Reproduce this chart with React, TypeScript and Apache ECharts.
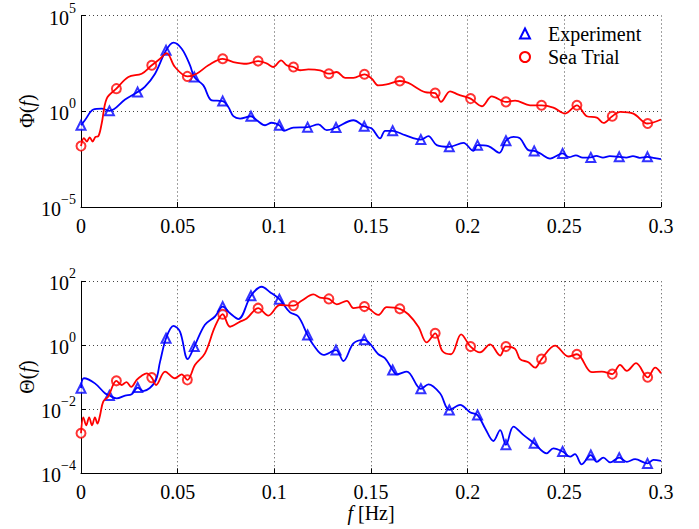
import React, { useEffect, useRef } from "react";
import * as echarts from "echarts";

// All values are [frequency (Hz), log10 of spectral value]
// ---- Top panel: Φ(f) ----
const phiExpLine = [
  [0.002, -0.47], [0.0064, 0.09], [0.0107, 0.14], [0.0228, 0.61], [0.033, 1.27], [0.0383, 1.96],
  [0.0478, 3.58], [0.0521, 3.26], [0.0564, 2.4], [0.0633, 1.35], [0.0676, 0.57], [0.0762, 0.22],
  [0.0788, -0.26], [0.0823, -0.38], [0.0909, -0.47], [0.0952, -0.73], [0.0986, -0.6], [0.105, -1.02],
  [0.1098, -0.85], [0.1228, -0.69], [0.1271, -0.99], [0.1409, -0.47], [0.1504, -0.9], [0.1547, -1.42],
  [0.1573, -1.02], [0.1676, -1.25], [0.1797, -1.3], [0.184, -1.77], [0.1978, -1.65], [0.203, -2.07],
  [0.2107, -1.82], [0.2164, -2.17], [0.2237, -1.34], [0.2271, -1.42], [0.2314, -2.03], [0.2375, -2.2],
  [0.2426, -2.47], [0.2525, -2.4], [0.256, -2.3], [0.2595, -2.42], [0.2665, -2.33], [0.27, -2.42],
  [0.2735, -2.34], [0.282, -2.42], [0.2855, -2.34], [0.289, -2.43], [0.296, -2.44], [0.3, -2.5],
];
const phiExpMarks = [
  [0, -0.73], [0.0147, 0.02], [0.0293, 1.0], [0.044, 3.18], [0.0586, 1.79], [0.0733, 0.53],
  [0.0879, -0.26], [0.1026, -0.73], [0.1172, -0.83], [0.1319, -0.85], [0.1465, -0.78], [0.1612, -1.02],
  [0.1758, -1.48], [0.1905, -1.86], [0.2051, -1.77], [0.2198, -1.54], [0.2344, -2.07], [0.2491, -2.2],
  [0.2637, -2.41], [0.2784, -2.38], [0.293, -2.38],
];
const phiSeaLine = [
  [0.0015, -1.4], [0.003, -1.58], [0.0045, -1.36], [0.006, -1.58], [0.0075, -1.34], [0.009, -1.3],
  [0.0107, -0.64], [0.0133, 0.66], [0.0245, 1.79], [0.0314, 1.96], [0.0409, 2.74], [0.0443, 3.04],
  [0.0486, 2.31], [0.0598, 1.96], [0.0659, 2.4], [0.0788, 2.57], [0.0857, 2.48], [0.096, 2.5],
  [0.0995, 2.31], [0.1035, 2.66], [0.1064, 2.4], [0.1133, 2.14], [0.1176, 2.19], [0.1236, 2.14],
  [0.1323, 2.05], [0.1366, 1.74], [0.1409, 1.74], [0.1504, 1.7], [0.1538, 1.35], [0.1581, 1.4],
  [0.1693, 1.48], [0.178, 1.0], [0.1862, 0.49], [0.1909, 1.04], [0.1952, 0.87], [0.2073, 0.26],
  [0.2125, 0.78], [0.2245, 0.56], [0.2323, 0.31], [0.2443, 0.19], [0.2504, -0.12], [0.2616, -0.26],
  [0.2668, -0.33], [0.2702, -0.61], [0.2788, -0.03], [0.2857, -0.12], [0.3, -0.43],
];
const phiSeaMarks = [
  [0, -1.82], [0.0183, 1.18], [0.0366, 2.4], [0.055, 1.82], [0.0733, 2.74], [0.0916, 2.62],
  [0.1099, 2.31], [0.1282, 1.96], [0.1466, 1.93], [0.1649, 1.58], [0.1832, 0.95], [0.2015, 0.66],
  [0.2198, 0.49], [0.2382, 0.31], [0.2565, 0.31], [0.2748, -0.26], [0.2931, -0.64],
];

// ---- Bottom panel: Θ(f) ----
const thetaExpLine = [
  [0.0015, -1.03], [0.0072, -1.19], [0.0124, -1.5], [0.0185, -1.66], [0.0228, -1.57], [0.0262, -1.53],
  [0.0322, -1.43], [0.0383, -1.14], [0.0409, -0.51], [0.0478, 0.61], [0.0512, 0.43], [0.0552, -0.43],
  [0.0641, 0.64], [0.0693, 0.9], [0.0771, 1.0], [0.0814, 0.82], [0.0935, 1.83], [0.0978, 1.66],
  [0.1081, 1.03], [0.1124, 0.9], [0.1202, 0.01], [0.1254, -0.3], [0.1357, -0.49], [0.1409, 0.06],
  [0.1538, -0.28], [0.1573, -0.41], [0.1633, -0.91], [0.1685, -0.82], [0.1797, -1.22], [0.1857, -1.5],
  [0.1961, -1.86], [0.2012, -2.09], [0.209, -2.59], [0.2133, -2.99], [0.2168, -2.65], [0.2237, -2.54],
  [0.2288, -2.8], [0.2409, -3.375], [0.2443, -3.22], [0.253, -3.48], [0.2555, -3.4], [0.259, -3.72],
  [0.2668, -3.64], [0.2702, -3.51], [0.2737, -3.66], [0.2823, -3.64], [0.2866, -3.56], [0.2961, -3.58],
  [0.3, -3.61],
];
const thetaExpMarks = [
  [0, -1.34], [0.0147, -1.57], [0.0293, -1.32], [0.044, 0.22], [0.0586, -0.04], [0.0733, 1.21],
  [0.0879, 1.55], [0.1026, 1.44], [0.1172, 0.32], [0.1319, -0.15], [0.1465, 0.17], [0.1612, -0.77],
  [0.1758, -1.36], [0.1905, -2.02], [0.2051, -2.18], [0.2198, -3.11], [0.2344, -3.06], [0.2491, -3.32],
  [0.2637, -3.43], [0.2784, -3.51], [0.293, -3.69],
];
const thetaSeaLine = [
  [0.0012, -2.25], [0.0027, -2.5], [0.0042, -2.25], [0.0057, -2.5], [0.0072, -2.25], [0.0085, -2.45],
  [0.0098, -2.2], [0.0115, -1.76], [0.0141, -1.6], [0.021, -1.24], [0.0235, -1.15], [0.026, -1.3],
  [0.0288, -1.08], [0.0314, -0.95], [0.034, -0.875], [0.0388, -1.24], [0.0435, -0.82], [0.0486, -1.03],
  [0.0521, -0.91], [0.059, -0.61], [0.0641, -0.25], [0.0693, 0.58], [0.0771, 0.58], [0.0823, 0.74],
  [0.0857, 0.84], [0.0969, 0.93], [0.1029, 1.26], [0.1141, 1.39], [0.1202, 1.59], [0.1236, 1.49],
  [0.1323, 1.28], [0.1375, 1.39], [0.1409, 1.16], [0.1538, 0.95], [0.1581, 1.19], [0.1693, 0.97],
  [0.1745, 0.58], [0.1788, 0.09], [0.1869, -0.18], [0.1914, -0.28], [0.1966, 0.34], [0.2064, -0.22],
  [0.2116, 0.03], [0.2168, -0.32], [0.2245, -0.11], [0.2271, -0.43], [0.2314, -0.53], [0.2349, -0.7],
  [0.2452, -0.01], [0.2521, -0.35], [0.2642, -0.84], [0.2694, -0.82], [0.2788, -0.61], [0.2823, -0.8],
  [0.2871, -0.56], [0.297, -0.7], [0.3, -0.875],
];
const thetaSeaMarks = [
  [0, -2.75], [0.0183, -1.11], [0.0366, -1.01], [0.055, -1.08], [0.0733, 0.97], [0.0916, 1.16],
  [0.1099, 1.24], [0.1282, 1.45], [0.1466, 1.21], [0.1649, 1.14], [0.1832, 0.375], [0.2015, -0.04],
  [0.2198, -0.04], [0.2382, -0.43], [0.2565, -0.28], [0.2748, -0.9], [0.2931, -1.0],
];

const xTicks = { min: 0, max: 0.3, interval: 0.05 };
const phiRange = { min: 1e-5, max: 1e5, interval: 5 };
const thetaRange = { min: 1e-4, max: 1e2, interval: 2 };
const seriesNames = ["Experiment", "Sea Trial"];

const BLUE = "#0000ff";
const RED = "#ff0000";
const FONT = "Liberation Serif";

const toVal = (pts: number[][]) => pts.map(([f, e]) => [f, Math.pow(10, e)]);
const merged = (line: number[][], marks: number[][]) =>
  toVal([...line, ...marks].sort((a, b) => a[0] - b[0]));

const logLabel = (v: number) => {
  const e = Math.round(Math.log10(v));
  const s = e < 0 ? "\u2212" + Math.abs(e) : String(e);
  return `{b|10}{s|${s}}`;
};

export default function App() {
  const ref = useRef<HTMLDivElement>(null);
  useEffect(() => {
    if (!ref.current) return;
    const chart = echarts.init(ref.current, undefined, { renderer: "svg" });
    const grids = [
      { left: 81, top: 15.5, width: 580, height: 191.5 },
      { left: 81, top: 281.3, width: 580, height: 192 },
    ];
    const split = { show: true, lineStyle: { color: "#444", width: 1, type: [1, 3] as any } };
    const xAxis = [0, 1].map((i) => ({
      type: "value",
      gridIndex: i,
      ...xTicks,
      axisLine: { show: true, onZero: false, lineStyle: { color: "#000", width: 1 } },
      axisTick: { show: true, inside: true, length: 5, lineStyle: { color: "#000" } },
      axisLabel: { color: "#000", fontFamily: FONT, fontSize: 20, margin: 9 },
      splitLine: split,
    }));
    const richY = {
      b: { fontFamily: FONT, fontSize: 20, color: "#000", padding: [4, 0, 0, 0] },
      s: { fontFamily: FONT, fontSize: 14, color: "#000", padding: [0, 0, 15, 0] },
    };
    const yAxis = [phiRange, thetaRange].map((r, i) => ({
      type: "log",
      logBase: 10,
      gridIndex: i,
      ...r,
      axisLine: { show: true, lineStyle: { color: "#000", width: 1 } },
      axisTick: { show: true, inside: true, length: 5, lineStyle: { color: "#000" } },
      axisLabel: { formatter: logLabel, rich: richY, margin: 5, fontFamily: FONT, color: "#000" },
      splitLine: split,
    }));
    const lineSeries = (name: string, color: string, data: number[][], idx: number) => ({
      type: "line",
      name,
      xAxisIndex: idx,
      yAxisIndex: idx,
      data,
      smooth: 0.35,
      showSymbol: false,
      symbol: "none",
      lineStyle: { color, width: 1.8 },
      itemStyle: { color },
      silent: true,
    });
    const markSeries = (name: string, color: string, symbol: string, data: number[][], idx: number) => ({
      type: "scatter",
      name,
      xAxisIndex: idx,
      yAxisIndex: idx,
      data,
      symbol,
      symbolSize: 9,
      itemStyle: { color, borderColor: color, borderWidth: 1.5 },
      silent: true,
    });
    const titleRich = {
      n: { fontFamily: FONT, fontSize: 20, color: "#000" },
      i: { fontFamily: FONT, fontSize: 20, color: "#000", fontStyle: "italic" },
    };
    chart.setOption({
      animation: false,
      backgroundColor: "#fff",
      grid: grids,
      xAxis,
      yAxis,
      legend: {
        orient: "vertical",
        left: 514,
        top: 18.5,
        itemWidth: 10,
        itemHeight: 10,
        itemGap: 3.5,
        selectedMode: false,
        data: [
          { name: seriesNames[0], icon: "emptyTriangle" },
          { name: seriesNames[1], icon: "emptyCircle" },
        ],
        textStyle: { fontFamily: FONT, fontSize: 20, color: "#000", lineHeight: 20, padding: [0, 0, 0, 13] },
      },
      series: [
        lineSeries(seriesNames[0], BLUE, merged(phiExpLine, phiExpMarks), 0),
        markSeries(seriesNames[0], BLUE, "emptyTriangle", toVal(phiExpMarks), 0),
        lineSeries(seriesNames[1], RED, merged(phiSeaLine, phiSeaMarks), 0),
        markSeries(seriesNames[1], RED, "emptyCircle", toVal(phiSeaMarks), 0),
        lineSeries(seriesNames[0], BLUE, merged(thetaExpLine, thetaExpMarks), 1),
        markSeries(seriesNames[0], BLUE, "emptyTriangle", toVal(thetaExpMarks), 1),
        lineSeries(seriesNames[1], RED, merged(thetaSeaLine, thetaSeaMarks), 1),
        markSeries(seriesNames[1], RED, "emptyCircle", toVal(thetaSeaMarks), 1),
      ],
      graphic: [
        {
          type: "text",
          x: 27,
          y: 111,
          rotation: Math.PI / 2,
          style: { text: "{n|\u03A6(}{i|f}{n|)}", rich: titleRich, fontFamily: FONT, align: "center", verticalAlign: "middle" },
        },
        {
          type: "text",
          x: 27,
          y: 377,
          rotation: Math.PI / 2,
          style: { text: "{n|\u0398(}{i|f}{n|)}", rich: titleRich, fontFamily: FONT, align: "center", verticalAlign: "middle" },
        },
        {
          type: "text",
          x: 371,
          y: 513,
          style: { text: "{i|f}{n| [Hz]}", rich: titleRich, fontFamily: FONT, align: "center", verticalAlign: "middle" },
        },
      ],
    });
    return () => chart.dispose();
  }, []);
  return (
    <div
      ref={ref}
      style={{ position: "fixed", left: 0, top: 0, width: 699, height: 529, background: "#fff" }}
    />
  );
}
